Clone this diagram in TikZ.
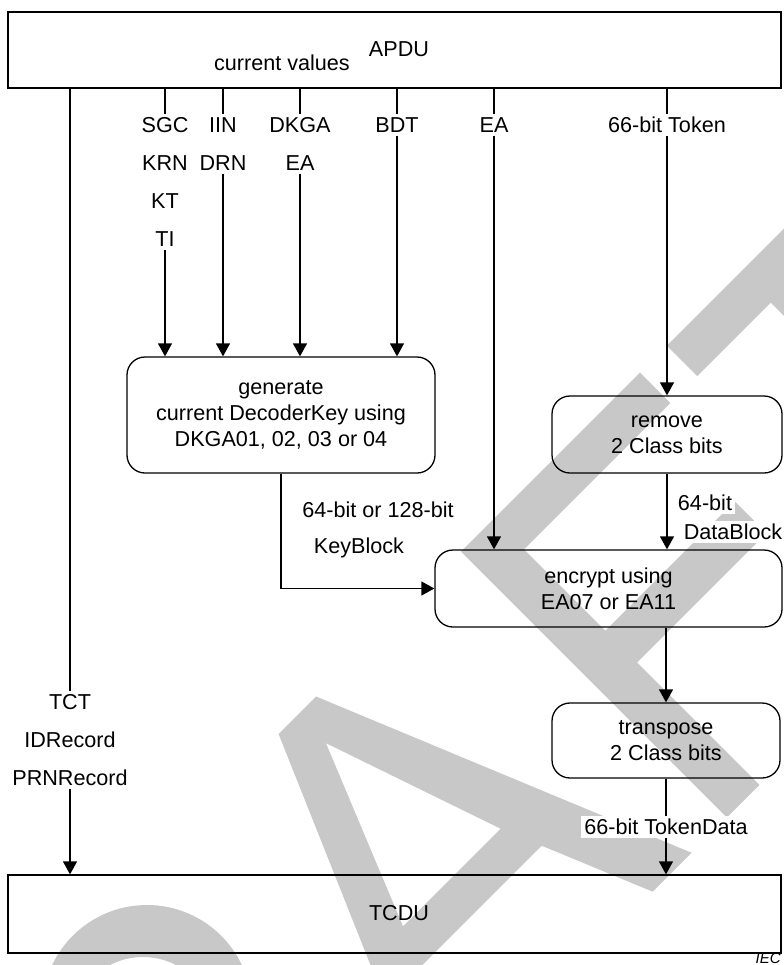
\documentclass[tikz,border=0pt]{standalone}
\usepackage{fontspec}
\setmainfont{Liberation Sans}
\usetikzlibrary{arrows.meta,calc}
\definecolor{wm}{RGB}{200,200,200}
\tikzset{
  pbox/.style={draw, line width=0.65pt, inner sep=0pt},
  rbox/.style={draw, line width=0.65pt, rounded corners=9pt, inner sep=0pt, align=center,
               font=\fontsize{10.8}{13}\selectfont},
  lbl/.style={fill=white, inner sep=1.5pt, align=center, font=\fontsize{10.8}{19}\selectfont},
  txt/.style={inner sep=0pt, font=\fontsize{10.8}{13}\selectfont},
  conn/.style={line width=0.65pt},
  arr/.style={conn, -{Triangle[length=6.5pt,width=7pt]}},
}
\begin{document}
\begin{tikzpicture}[x=0.5pt,y=-0.5pt]
\useasboundingbox (0,0) rectangle (783,965);
% ---- watermark (rotated DRAFT letters) ----
\begin{scope}[x={(0.35355pt,0.35355pt)}, y={(0.35355pt,-0.35355pt)}]
  % A
  \fill[wm,even odd rule] (-484,1092) -- (-322,716) -- (-269,716) -- (-114,1092) -- (-169,1092)
     -- (-215,981) -- (-387,981) -- (-433,1092) -- cycle
     (-295,756) -- (-232,940) -- (-370,940) -- cycle;
  % F
  \fill[wm] (-64,716) -- (189,716) -- (189,759) -- (-18,759) -- (-18,874) -- (165,874)
     -- (165,919) -- (-18,919) -- (-18,1092) -- (-64,1092) -- cycle;
  % T
  \fill[wm] (227,716) -- (480,716) -- (480,759) -- (376,759) -- (376,1092) -- (331,1092)
     -- (331,759) -- (227,759) -- cycle;
\end{scope}
% R bowl
\fill[wm,even odd rule] (147,1010) circle[radius=105] (143,1029) circle[radius=72];

% ---- boxes ----
\node[pbox, minimum width=386.5pt, minimum height=38pt] (apdu) at (394.5,50) {};
\node[txt] (apdut) at (399,49) {APDU};
\node[txt] (cv) at (282,63) {current values};

\node[rbox, minimum width=154pt, minimum height=58pt] (gen) at (281,415)
  {generate\\current DecoderKey using\\DKGA01, 02, 03 or 04};
\node[rbox, minimum width=115pt, minimum height=38.5pt] (rem) at (667,434.5)
  {remove\\2 Class bits};
\node[rbox, minimum width=173.5pt, minimum height=38.5pt] (enc) at (608.5,588.5)
  {encrypt using\\EA07 or EA11};
\node[rbox, minimum width=114pt, minimum height=37.5pt] (tra) at (666,740.5)
  {transpose\\2 Class bits};
\node[pbox, minimum width=386.5pt, minimum height=39pt] (tcdu) at (394.5,914) {};
\node[txt] (tcdut) at (399,913) {TCDU};

% ---- labels ----
\node[lbl] (lsgc) at (165,182) {SGC\\KRN\\KT\\TI};
\node[lbl] (liin) at (223,144) {IIN\\DRN};
\node[lbl] (ldkga) at (300,144) {DKGA\\EA};
\node[lbl] (lbdt) at (397,125) {BDT};
\node[lbl] (lea) at (494,125) {EA};
\node[lbl] (ltok) at (667,125) {66-bit Token};
\node[lbl] (ltct) at (70,740) {TCT\\IDRecord\\PRNRecord};
\node[lbl] (lkb1) at (378,510) {64-bit or 128-bit};
\node[lbl] (lkb2) at (359,548) {KeyBlock};
\node[lbl] (ldb1) at (705,503) {64-bit};
\node[lbl] (ldb2) at (733,532) {DataBlock};
\node[lbl] (ltd) at (666,827) {66-bit TokenData};
\node[anchor=south east, inner sep=0pt, font=\itshape\fontsize{7.5}{9}\selectfont] (iec) at (781,964) {IEC};

% ---- connectors ----
\draw[conn] (lsgc.north |- apdu.south) -- (lsgc.north);
\draw[arr] (lsgc.south) -- (lsgc.south |- gen.north);
\draw[conn] (liin.north |- apdu.south) -- (liin.north);
\draw[arr] (liin.south) -- (liin.south |- gen.north);
\draw[conn] (ldkga.north |- apdu.south) -- (ldkga.north);
\draw[arr] (ldkga.south) -- (ldkga.south |- gen.north);
\draw[conn] (lbdt.north |- apdu.south) -- (lbdt.north);
\draw[arr] (lbdt.south) -- (lbdt.south |- gen.north);
\draw[conn] (lea.north |- apdu.south) -- (lea.north);
\draw[arr] (lea.south) -- (lea.south |- enc.north);
\draw[conn] (ltok.north |- apdu.south) -- (ltok.north);
\draw[arr] (ltok.south) -- (ltok.south |- rem.north);
\draw[conn] (ltct.north |- apdu.south) -- (ltct.north);
\draw[arr] (ltct.south) -- (ltct.south |- tcdu.north);
\draw[arr] (gen.south) |- (enc.west);
\draw[arr] (rem.south) -- (rem.south |- enc.north);
\draw[arr] (enc.south -| tra.north) -- (tra.north);
\draw[conn] (tra.south) -- (ltd.north);
\draw[arr] (ltd.south) -- (ltd.south |- tcdu.north);
\end{tikzpicture}
\end{document}
